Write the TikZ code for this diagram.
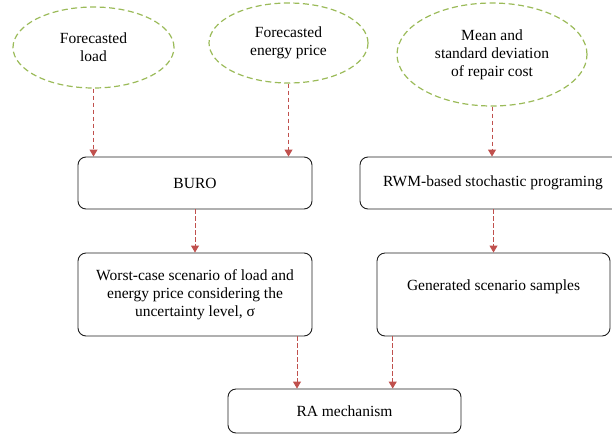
\documentclass[tikz,border=0pt]{standalone}
\usepackage{fontspec}
\setmainfont{Liberation Serif}
\newfontfamily\diagfont{Liberation Serif}
\usetikzlibrary{shapes.geometric,arrows.meta}
\definecolor{elgreen}{RGB}{155,187,89}
\definecolor{arrred}{RGB}{192,80,77}
\definecolor{boxline}{RGB}{30,30,30}
\begin{document}
\begin{tikzpicture}[x=1pt,y=-1pt,
  font=\diagfont\fontsize{15.5}{18}\selectfont,
  inp/.style={ellipse, draw=elgreen, line width=1.2pt, dash pattern=on 6pt off 3.5pt, inner sep=0pt, align=center},
  box/.style={draw=boxline, line width=0.9pt, rounded corners=8pt, align=center, inner sep=0pt},
  flow/.style={draw=arrred, line width=0.9pt, dash pattern=on 4.5pt off 2.5pt, -{Triangle[width=8pt,length=7pt]}}]
\useasboundingbox (0,0) rectangle (612,434);
\node[inp, minimum width=161pt, minimum height=81pt] (e1) at (93.5,47.5) {Forecasted\\load};
\node[inp, minimum width=159pt, minimum height=80pt] (e2) at (288.5,43) {Forecasted\\energy price};
\node[inp, minimum width=190pt, minimum height=103pt] (e3) at (492,54.5) {Mean and\\standard deviation\\of repair cost};
\node[box, minimum width=234pt, minimum height=52pt] (buro) at (195,183) {BURO};
\node[box, minimum width=266pt, minimum height=52pt] (rwm) at (493,183) {RWM-based stochastic programing};
\node[box, minimum width=234pt, minimum height=83pt] (worst) at (195,294.5) {Worst-case scenario of load and\\energy price considering the\\uncertainty level, σ};
\node[box, minimum width=233pt, minimum height=83pt] (gen) at (493.5,294.5) {};
\node[align=center, inner sep=0pt] (gentext) at (493.5,287) {Generated scenario samples};
\node[box, minimum width=233pt, minimum height=44pt] (ra) at (344.5,411) {RA mechanism};
\coordinate (ra1) at (297,411);
\coordinate (ra2) at (392.7,411);
\draw[flow] (e1.south) -- (e1.south |- buro.north);
\draw[flow] (e2.south) -- (e2.south |- buro.north);
\draw[flow] (e3.south) -- (e3.south |- rwm.north);
\draw[flow] (buro.south) -- (worst.north);
\draw[flow] (gen.north |- rwm.south) -- (gen.north);
\draw[flow] (ra1 |- worst.south) -- (ra1 |- ra.north);
\draw[flow] (ra2 |- gen.south) -- (ra2 |- ra.north);
\end{tikzpicture}
\end{document}
